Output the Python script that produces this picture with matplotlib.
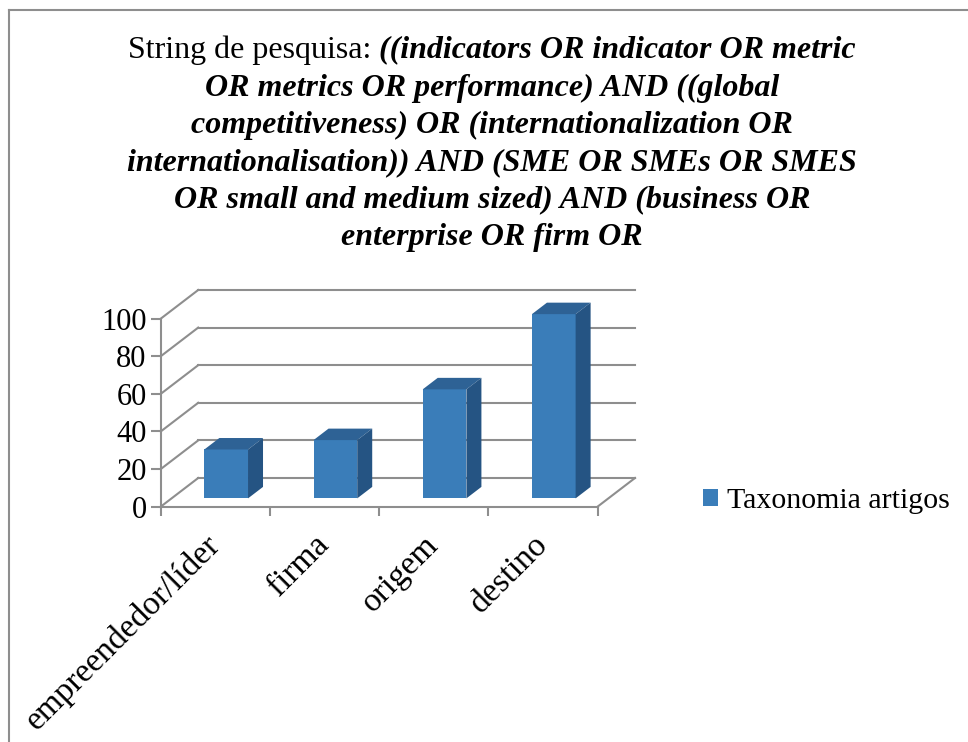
import matplotlib
matplotlib.use("Agg")
import matplotlib.pyplot as plt
from matplotlib.patches import Polygon
from matplotlib.lines import Line2D

plt.rcParams["font.family"] = ["Liberation Serif", "DejaVu Serif"]

# chart data
categories = ["empreendedor/líder", "firma", "origem", "destino"]
values = [26, 31, 58, 98]
series_name = "Taxonomia artigos"
y_ticks = [0, 20, 40, 60, 80, 100]

title_plain = "String de pesquisa: "
title_lines = [
    "((indicators OR indicator OR metric",
    "OR metrics OR performance) AND ((global",
    "competitiveness) OR (internationalization OR",
    "internationalisation)) AND (SME OR SMEs OR SMES",
    "OR small and medium sized) AND (business OR",
    "enterprise OR firm OR",
]

FRONT = "#3A7DB9"
TOP = "#2E6295"
SIDE = "#255483"
GRID = "#8E8E8E"

W, H = 968, 742
fig = plt.figure(figsize=(W / 100, H / 100), dpi=100)

# front plane of the 3D box, in pixels
x0, x1 = 160.7, 597.5
y0, y1 = 506.7, 318.7
ax = fig.add_axes([x0 / W, 1 - y0 / H, (x1 - x0) / W, (y0 - y1) / H])
n = len(categories)
ax.set_xlim(0, n)
ax.set_ylim(0, 100)

# depth of the box in data units
px_x = (x1 - x0) / n
px_y = (y0 - y1) / 100
DX = 37.5 / px_x
DY = 28.7 / px_y

for s in ["top", "right"]:
    ax.spines[s].set_visible(False)
for s in ["left", "bottom"]:
    ax.spines[s].set_color(GRID)
    ax.spines[s].set_linewidth(1.5)

# back wall + left wall gridlines
for v in y_ticks:
    ax.add_line(Line2D([DX, n + DX], [v + DY, v + DY], color=GRID, lw=1.5, clip_on=False, zorder=1))
    ax.add_line(Line2D([0, DX], [v, v + DY], color=GRID, lw=1.5, clip_on=False, zorder=1))
# floor right edge
ax.add_line(Line2D([n, n + DX], [0, DY], color=GRID, lw=1.5, clip_on=False, zorder=1))

# 3D bars
f0, fd = 0.29, 0.40
bw = 0.40
bdx, bdy = fd * DX, fd * DY
centers = [i + 0.5 for i in range(n)]
xs = [c + f0 * DX for c in centers]
ax.bar(xs, values, width=bw, bottom=f0 * DY, color=FRONT, zorder=3, clip_on=False,
       label=series_name)
for x, v in zip(xs, values):
    xl, xr = x - bw / 2, x + bw / 2
    yb, yt = f0 * DY, v + f0 * DY
    ax.add_patch(Polygon([(xl, yt), (xr, yt), (xr + bdx, yt + bdy), (xl + bdx, yt + bdy)],
                         closed=True, facecolor=TOP, edgecolor="none", zorder=3, clip_on=False))
    ax.add_patch(Polygon([(xr, yb), (xr + bdx, yb + bdy), (xr + bdx, yt + bdy), (xr, yt)],
                         closed=True, facecolor=SIDE, edgecolor="none", zorder=3, clip_on=False))

# axes ticks
ax.set_yticks(y_ticks)
ax.set_yticklabels([str(t) for t in y_ticks], fontsize=22)
ax.tick_params(axis="y", length=7.2, width=1.5, color=GRID, pad=3)
ax.set_xticks(range(n + 1))
ax.set_xticklabels([""] * (n + 1))
ax.tick_params(axis="x", which="major", length=6.5, width=1.5, color=GRID)
ax.set_xticks(centers, minor=True)
ax.set_xticklabels(categories, minor=True, fontsize=24, rotation=45, ha="right",
                   rotation_mode="anchor", va="center")
ax.tick_params(axis="x", which="minor", length=0, pad=24)

# legend
fig.legend(loc="center left", bbox_to_anchor=(703 / W, 1 - 501 / H), frameon=False,
           fontsize=21.5, handlelength=0.5, handleheight=0.5, handletextpad=0.3,
           borderpad=0, borderaxespad=0)

# title: first line mixes plain and bold italic text
tsize = 23
cx = 492 / W
line_y = [50, 88, 125, 163, 200, 237]
renderer = fig.canvas.get_renderer()
t_a = fig.text(0, 1 - line_y[0] / H, title_plain, fontsize=tsize, va="center", ha="left")
t_b = fig.text(0, 1 - line_y[0] / H, title_lines[0], fontsize=tsize, va="center", ha="left",
               fontweight="bold", fontstyle="italic")
wa = t_a.get_window_extent(renderer).width / W
wb = t_b.get_window_extent(renderer).width / W
start = cx - (wa + wb) / 2
t_a.set_x(start)
t_b.set_x(start + wa)
for line, yy in zip(title_lines[1:], line_y[1:]):
    fig.text(cx, 1 - yy / H, line, fontsize=tsize, va="center", ha="center",
             fontweight="bold", fontstyle="italic")

# chart area border (only left and top visible in the crop)
fig.add_artist(Line2D([9 / W, 9 / W], [0, 1 - 9.5 / H], color=GRID, lw=1.5))
fig.add_artist(Line2D([9 / W, 1], [1 - 9.5 / H, 1 - 9.5 / H], color=GRID, lw=1.5))

fig.savefig("out.png", dpi=100)
